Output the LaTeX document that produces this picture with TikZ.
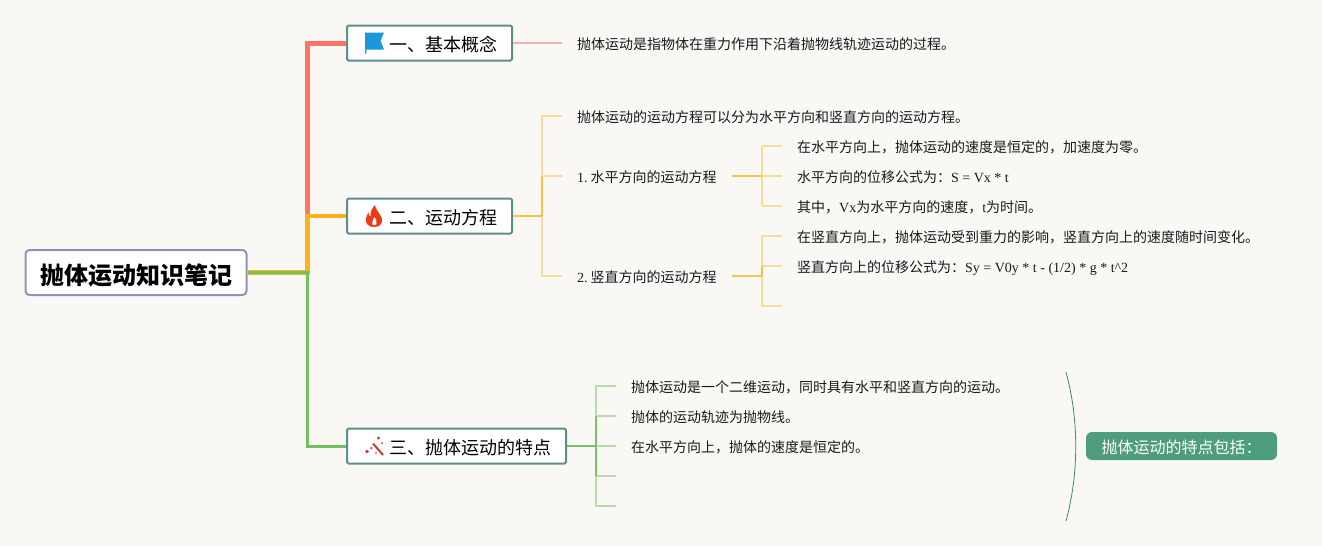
\documentclass[tikz,border=0pt]{standalone}
\usepackage{fontspec}
\setmainfont{Liberation Serif}
\newfontfamily\cjk{Noto Sans CJK SC}
\definecolor{bgc}{HTML}{F9F8F4}
\definecolor{redl}{HTML}{FF7468}
\definecolor{orgl}{HTML}{FFB31A}
\definecolor{grnl}{HTML}{76BF5C}
\definecolor{pinkc}{HTML}{F9B3AE}
\definecolor{orgm}{HTML}{F7C24A}
\definecolor{orgc}{HTML}{FADC98}
\definecolor{grnm}{HTML}{7DBF6A}
\definecolor{grnc}{HTML}{B8DCAA}
\definecolor{tealb}{HTML}{5C8F87}
\definecolor{rootb}{HTML}{8C96B0}
\definecolor{sumc}{HTML}{4E9D7E}
\definecolor{flagc}{HTML}{1A98DB}
\definecolor{flamec}{HTML}{F03A17}
\definecolor{wandc}{HTML}{D6342C}
\tikzset{
 x=1pt,y=-1pt,
 rootbox/.style={draw=rootb,line width=2pt,fill=white,rounded corners=4pt,minimum width=221pt,minimum height=45pt,inner sep=0pt,text height=24.4pt,text depth=0pt,font=\cjk\bfseries\fontsize{24}{28}\selectfont,text=black},
 topicbox/.style={draw=tealb,line width=2pt,fill=white,rounded corners=1.5pt,minimum height=35pt,inner sep=0pt,text height=17pt,text depth=0pt,font=\cjk\fontsize{18}{22}\selectfont,text=black},
 leaf/.style={inner xsep=15pt,inner ysep=2pt,text height=12pt,text depth=0pt,font=\fontsize{14}{18}\selectfont,text=black!90},
 sumbox/.style={fill=sumc,rounded corners=6pt,minimum width=191pt,minimum height=28pt,inner sep=0pt,text height=14.2pt,text depth=0pt,font=\cjk\fontsize{16}{20}\selectfont,text=white},
 main/.style={line width=#1,line join=miter},
 thin child/.style={line width=2pt,line join=round},
}
\begin{document}
\begin{tikzpicture}
\useasboundingbox (0,0) rectangle (1322,546);
\fill[bgc] (0,0) rectangle (1322,546);

\coordinate (hub) at (307.3,272.7);
\coordinate (h2) at (542,216);
\coordinate (h21) at (762,176);
\coordinate (h22) at (762,276);
\coordinate (h3) at (596,446);
\coordinate (e225) at (782,306);
\coordinate (e34) at (616,476);
\coordinate (e35) at (616,506);

% nodes
\node[rootbox] (root) at (136,272.5) {抛体运动知识笔记};
\node[topicbox,minimum width=165pt] (t1) at (429.5,43) {\kern28pt 一、基本概念};
\node[topicbox,minimum width=165pt] (t2) at (429.5,216) {\kern28pt 二、运动方程};
\node[topicbox,minimum width=219pt] (t3) at (456.5,446) {\kern28pt 三、抛体运动的特点};
\node[sumbox] (sum) at (1181.5,446) {抛体运动的特点包括：};

\node[leaf,anchor=west] (a1) at (562,43.3) {\cjk 抛体运动是指物体在重力作用下沿着抛物线轨迹运动的过程。};
\node[leaf,anchor=west] (b1) at (562,116.3) {\cjk 抛体运动的运动方程可以分为水平方向和竖直方向的运动方程。};
\node[leaf,anchor=west] (b2) at (562,176.3) {1.\kern3pt{\cjk 水平方向的运动方程}};
\node[leaf,anchor=west] (b3) at (562,276.3) {2.\kern3pt{\cjk 竖直方向的运动方程}};
\node[leaf,anchor=west] (c1) at (782,146.3) {\cjk 在水平方向上，抛体运动的速度是恒定的，加速度为零。};
\node[leaf,anchor=west] (c2) at (782,176.3) {{\cjk 水平方向的位移公式为：}S = Vx * t};
\node[leaf,anchor=west] (c3) at (782,206.3) {{\cjk 其中，}Vx{\cjk 为水平方向的速度，}t{\cjk 为时间。}};
\node[leaf,anchor=west] (d1) at (782,236.3) {\cjk 在竖直方向上，抛体运动受到重力的影响，竖直方向上的速度随时间变化。};
\node[leaf,anchor=west] (d2) at (782,266.3) {{\cjk 竖直方向上的位移公式为：}Sy = V0y * t - (1/2) * g * t\^{}2};
\node[leaf,anchor=west] (f1) at (616,386.3) {\cjk 抛体运动是一个二维运动，同时具有水平和竖直方向的运动。};
\node[leaf,anchor=west] (f2) at (616,416.3) {\cjk 抛体的运动轨迹为抛物线。};
\node[leaf,anchor=west] (f3) at (616,446.3) {\cjk 在水平方向上，抛体的速度是恒定的。};

% main branches
\draw[redl,main=5pt] (hub) |- (t1.west);
\draw[orgl,main=5pt] (root.east |- hub) -- (hub) -- (hub |- t2.west);
\draw[orgl,main=3.5pt] (hub |- t2.west) ++(-2.5,0) -- (t2.west);
\draw[grnl,main=3pt] (root.east |- hub) -- (hub) |- (t3.west);

% topic 1
\draw[pinkc,thin child] (t1.east) -- (a1.west |- t1.east);

% topic 2
\draw[orgc,thin child] (h2) |- (b1.west |- 0,116);
\draw[orgc,thin child] (h2) |- (b3.west |- 0,276);
\draw[orgc,thin child] (h2 |- 0,176) -- (b2.west |- 0,176);
\draw[orgm,thin child] (h2) -- (h2 |- 0,176);
\draw[orgm,line width=2.5pt] (t2.east) -- (h2);

% level 3, upper
\draw[orgc,thin child] (h21) |- (c1.west |- 0,146);
\draw[orgc,thin child] (h21) |- (c3.west |- 0,206);
\draw[orgc,thin child] (h21) -- (c2.west |- h21);
\draw[orgm,line width=2.5pt] (b2.east |- h21) -- (h21);

% level 3, lower
\draw[orgc,thin child] (h22) |- (d1.west |- 0,236);
\draw[orgc,thin child] (h22) |- (e225);
\draw[orgc,thin child] (h22 |- 0,266) -- (d2.west |- 0,266);
\draw[orgm,thin child] (h22) -- (h22 |- 0,266);
\draw[orgm,line width=2.5pt] (b3.east |- h22) -- (h22);

% topic 3
\draw[grnc,thin child] (h3) |- (f1.west |- 0,386);
\draw[grnc,thin child] (h3 |- 0,416) -- (f2.west |- 0,416);
\draw[grnc,thin child] (h3) -- (f3.west |- h3);
\draw[grnc,thin child] (h3) |- (e35);
\draw[grnc,thin child] (h3 |- e34) -- (e34);
\draw[grnm,thin child] (h3 |- e34) -- (h3 |- 0,416);
\draw[grnm,line width=2.5pt] (t3.east) -- (h3);

% summary bracket
\coordinate (brt) at (1066,372);
\coordinate (brb) at (1066,521);
\draw[sumc!85!black,line width=0.8pt] (brt) .. controls (1079,420) and (1079,473) .. (brb);

% flag icon
\fill[flagc] (365,32.5) -- (384,32.5) -- (380.5,41) -- (384,49.5) -- (366.4,49.5) -- (366.4,53.5) -- (365,54) -- cycle;

% flame icon
\fill[flamec] (375,205) .. controls (375.5,209) and (378,211) .. (379.5,214)
 .. controls (382,217) and (383,221) .. (381,224) .. controls (379,228) and (370,228) .. (367.5,224.5)
 .. controls (364.5,221) and (366,216) .. (368.5,212.5) .. controls (368.5,214.5) and (369,216) .. (370.5,216.5)
 .. controls (370,212) and (372,208) .. (375,205) -- cycle;
\fill[white] (374.5,217) .. controls (375.5,219.5) and (377.5,221.5) .. (376.5,224) .. controls (375.5,226) and (373.2,226) .. (372.3,224) .. controls (371.5,221.5) and (373.5,219.5) .. (374.5,217) -- cycle;

% wand icon
\draw[wandc,line width=2pt] (373,443.5) -- (383,455);
\fill[wandc] (378.5,438) circle (1.7) (367,451.5) circle (1.9) (371.3,448) circle (1.2) (382,443) circle (1) (376,453) circle (0.8);
\end{tikzpicture}
\end{document}
